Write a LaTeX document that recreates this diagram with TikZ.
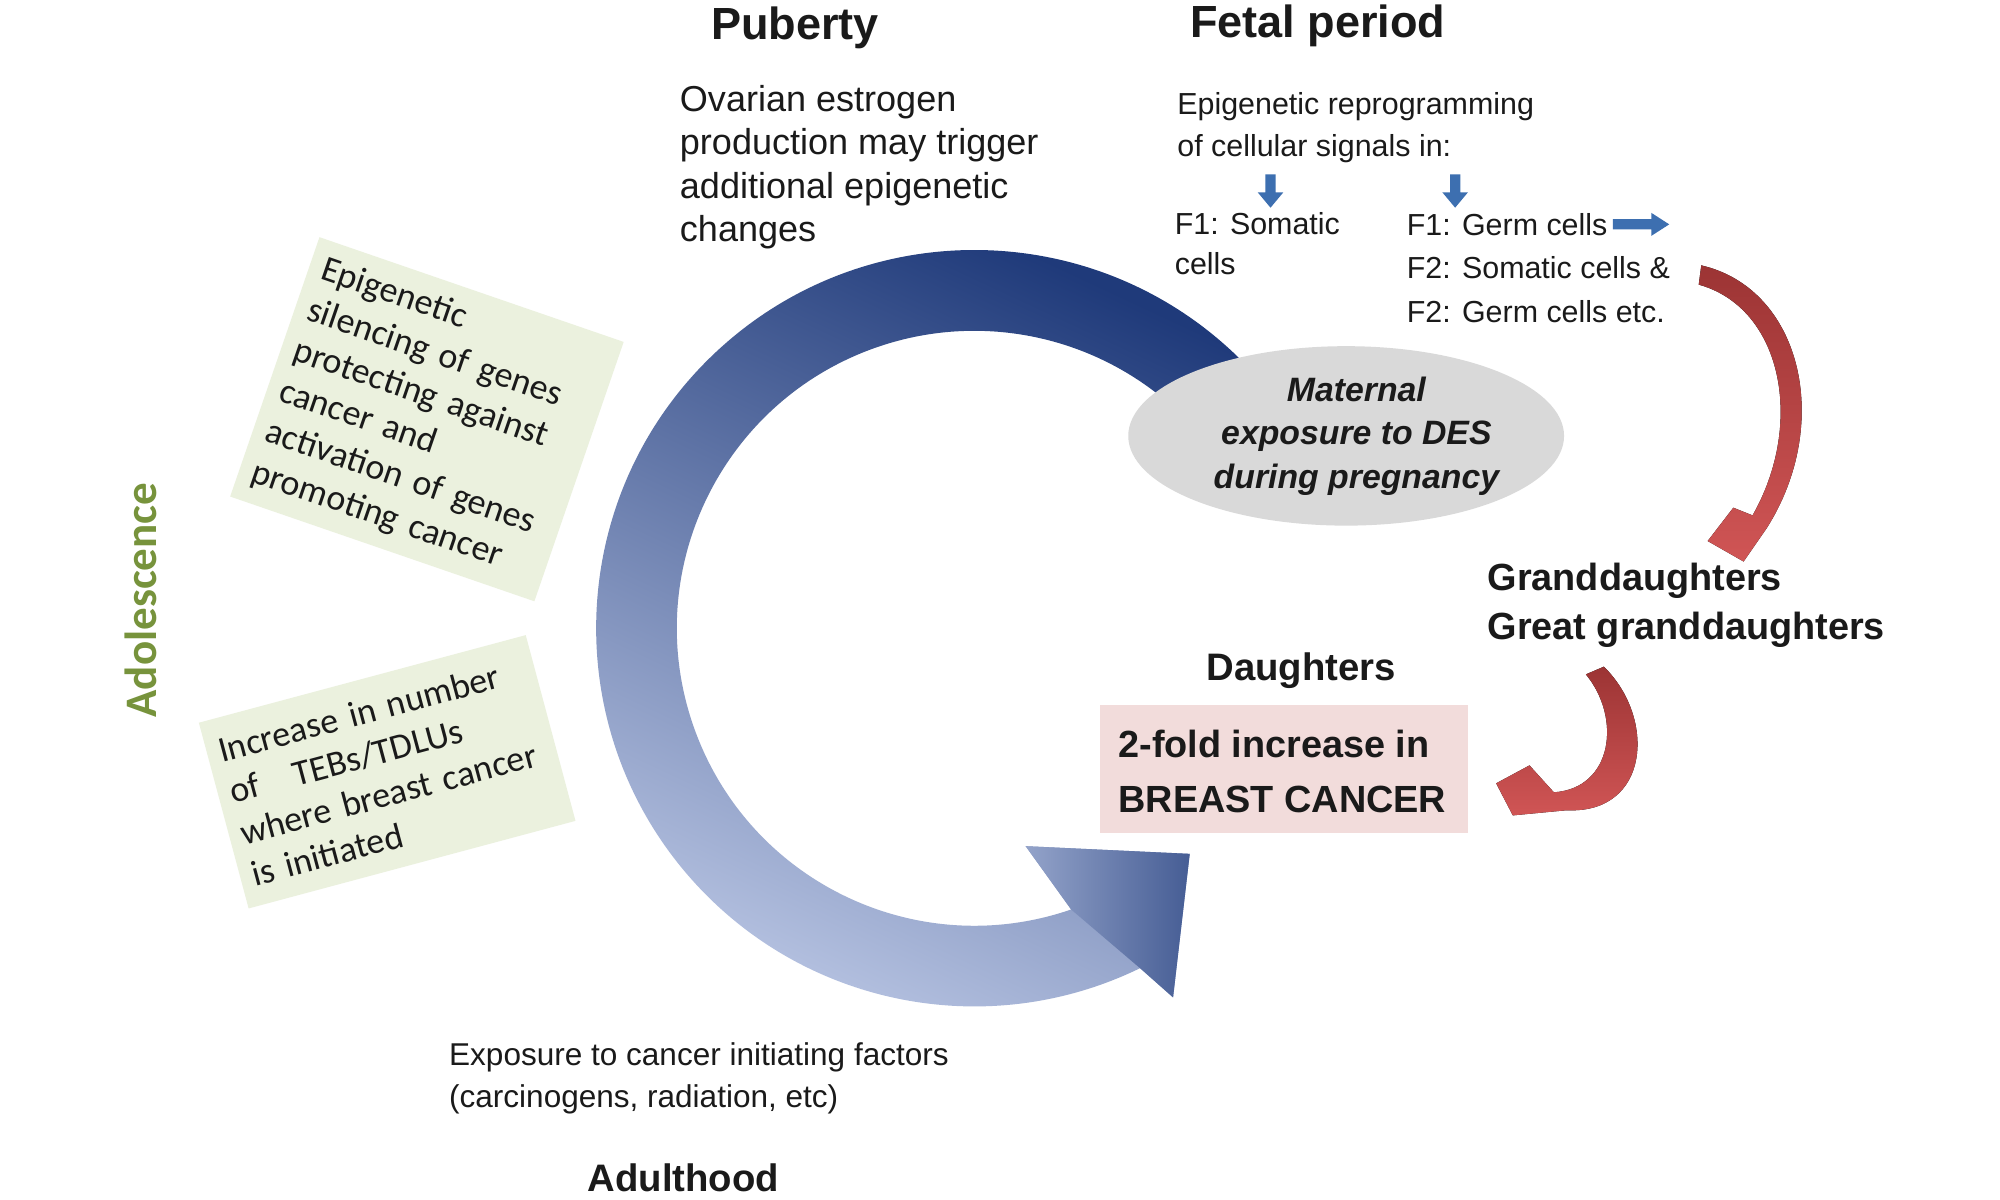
\documentclass[tikz,border=0pt]{standalone}
\usepackage{fontspec}
\setmainfont{Liberation Sans}
\newfontfamily\carl{Carlito}
\usetikzlibrary{shapes.geometric,calc}
\definecolor{boxgreen}{HTML}{EBF1DE}
\definecolor{adolgreen}{HTML}{77933C}
\definecolor{pinkbox}{HTML}{F2DCDB}
\definecolor{ellgray}{HTML}{D9D9D9}
\definecolor{darkblue}{HTML}{1F3A7A}
\definecolor{lightblue}{HTML}{BAC6E4}
\definecolor{smallblue}{HTML}{3D6FB0}
\definecolor{redA}{HTML}{9C3434}
\definecolor{redB}{HTML}{D05555}
\definecolor{txt}{HTML}{1A1A1A}
\begin{document}
\begin{tikzpicture}[x=0.02cm,y=0.02cm,
  txtn/.style={inner sep=0pt,text=txt,align=left},
  green box/.style={fill=boxgreen,inner sep=0pt,align=left,font=\carl\fontsize{16}{19}\selectfont,text=txt},
  small arrow/.style={fill=smallblue,draw=none},
  red arrow/.style={top color=redA,bottom color=redB,draw=none}]
\useasboundingbox (0,0) rectangle (1560,-936);
\fill[white] (0,0) rectangle (1560,-936);

% big circular arrow
\shade[top color=darkblue,bottom color=lightblue,shading angle=-25]
  ($(760,-490)+(44:295)$) arc[start angle=44,end angle=296,radius=295]
  -- (915,-778) -- (928,-666) -- (800,-660) -- (835.5,-709.4)
  arc[start angle=289,end angle=44,radius=232] -- cycle;
\shade[left color=lightblue!75!darkblue,right color=darkblue!75!lightblue]
  (889,-755) -- (915,-778) -- (928,-666) -- (800,-660) -- (835.5,-709.4) -- cycle;

% ellipse
\node[ellipse,fill=ellgray,inner sep=0pt,
  minimum width=6.8cm,minimum height=2.8cm] (ell) at (1050,-340) {};
\node[txtn,align=center,font=\bfseries\itshape\fontsize{15}{19.3}\selectfont] (elltxt) at (1058,-340)
  {Maternal\\exposure to DES\\during pregnancy};

% headings
\node[txtn,font=\bfseries\fontsize{20}{24}\selectfont] (pub) at (620,-22) {Puberty};
\node[txtn,anchor=west,font=\bfseries\fontsize{20}{24}\selectfont] (fetal) at (928,-20) {Fetal period};
\node[txtn,anchor=north west,font=\fontsize{16}{19.3}\selectfont] (ovar) at (530,-66)
  {Ovarian estrogen\\production may trigger\\additional epigenetic\\changes};
\node[txtn,anchor=north west,font=\fontsize{13.5}{18.7}\selectfont] (epi) at (918,-72)
  {Epigenetic reprogramming\\of cellular signals in:};
\node[txtn,anchor=north west,font=\fontsize{13.5}{18.1}\selectfont] (f1s) at (916,-165)
  {F1: Somatic\\cells};
\node[txtn,anchor=north west,font=\fontsize{13.5}{19.3}\selectfont] (f1g) at (1097,-166)
  {F1: Germ cells\\F2: Somatic cells \&\\F2: Germ cells etc.};

% small blue arrows
\fill[small arrow] (987,-136) -- (995,-136) -- (995,-150) -- (1001,-150) -- (991,-162) -- (981,-150) -- (987,-150) -- cycle;
\fill[small arrow] (1131,-136) -- (1139,-136) -- (1139,-150) -- (1145,-150) -- (1135,-162) -- (1125,-150) -- (1131,-150) -- cycle;
\fill[small arrow] (1258,-171) -- (1288,-171) -- (1288,-166) -- (1302,-175) -- (1288,-184) -- (1288,-179) -- (1258,-179) -- cycle;

% red arrows
\fill[red arrow] (1327,-207) .. controls (1405,-225) and (1430,-330) .. (1378,-412)
  -- (1360,-438) -- (1332,-422) -- (1352,-396) -- (1367,-402)
  .. controls (1408,-330) and (1390,-240) .. (1325,-222) -- cycle;
\fill[red arrow] (1251,-520) .. controls (1292,-560) and (1287,-635) .. (1222,-632)
  -- (1180,-636) -- (1167,-611) -- (1193,-597) -- (1212,-618)
  .. controls (1258,-615) and (1265,-560) .. (1237,-526) -- cycle;

\node[txtn,anchor=north west,font=\bfseries\fontsize{16.8}{21.5}\selectfont] (grand) at (1160,-439)
  {Granddaughters\\Great granddaughters};
\node[txtn,font=\bfseries\fontsize{17}{20}\selectfont] (daught) at (1015,-523) {Daughters};
\node[fill=pinkbox,minimum width=5.74cm,minimum height=2cm,inner sep=0pt] (pink) at (1001.5,-600) {};
\node[txtn,anchor=north west,font=\bfseries\fontsize{16.8}{24.4}\selectfont] (bc) at (872,-569)
  {2-fold increase in\\BREAST CANCER};

% green boxes
\node[green box,rotate=-19,minimum width=5.02cm,minimum height=4.28cm,text width=4.6cm] (g1) at (333,-327)
  {Epigenetic\\silencing of genes\\protecting against\\cancer and\\activation of genes\\promoting cancer};
\node[green box,rotate=15,minimum width=5.28cm,minimum height=3.0cm,text width=4.9cm] (g2) at (302,-602)
  {Increase in number\\of\ \ \ TEBs/TDLUs\\where breast cancer\\is initiated};
\node[txtn,rotate=90,text=adolgreen,font=\carl\bfseries\fontsize{20}{24}\selectfont] (adol) at (110,-468) {Adolescence};

\node[txtn,anchor=north west,font=\fontsize{14}{18.7}\selectfont] (expo) at (350,-813)
  {Exposure to cancer initiating factors\\(carcinogens, radiation, etc)};
\node[txtn,font=\bfseries\fontsize{17}{20}\selectfont] (adult) at (533,-919) {Adulthood};
\end{tikzpicture}
\end{document}
